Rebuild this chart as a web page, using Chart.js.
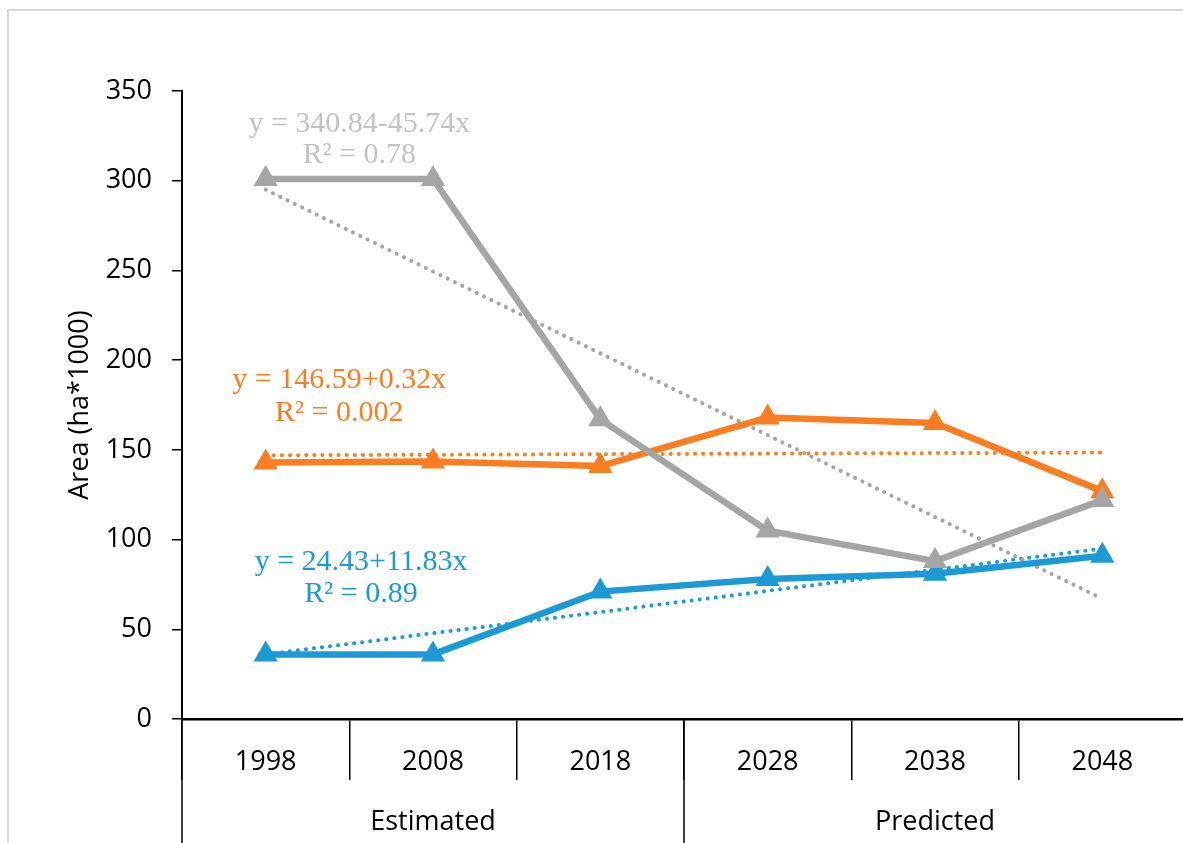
<!DOCTYPE html>
<html>
<head>
<meta charset="utf-8">
<script src="https://cdn.jsdelivr.net/npm/chart.js@4.4.1/dist/chart.umd.min.js"></script>
<style>
  html, body { margin: 0; padding: 0; background: #fff; overflow: hidden; }
  canvas { display: block; }
</style>
</head>
<body>
<canvas id="myChart" width="1200" height="843"></canvas>
<script>
// data
const years = ['1998', '2008', '2018', '2028', '2038', '2048'];
const periods = ['Estimated', 'Estimated', 'Estimated', 'Predicted', 'Predicted', 'Predicted'];
const grayVals = [301, 301, 167, 105, 88, 122];
const orangeVals = [143, 143.5, 141, 168, 165, 127];
const blueVals = [36, 36, 71, 78, 81, 91];
// linear trendlines, only end points
const grayTrend = [295, null, null, null, null, 67];
const orangeTrend = [147, null, null, null, null, 148.5];
const blueTrend = [36, null, null, null, null, 95];
const yTicks = [0, 50, 100, 150, 200, 250, 300, 350];
const grayEq = ['y = 340.84-45.74x', 'R² = 0.78'];
const orangeEq = ['y = 146.59+0.32x', 'R² = 0.002'];
const blueEq = ['y = 24.43+11.83x', 'R² = 0.89'];

const GRAY = '#a5a5a5';
const ORANGE = '#fb7d21';
const BLUE = '#1c9ad6';
const sans = "'Open Sans', 'Liberation Sans', sans-serif";

const lineSet = (label, data, color, order) => ({
  label: label,
  data: data,
  borderColor: color,
  backgroundColor: color,
  borderWidth: 6.5,
  pointStyle: 'triangle',
  pointRadius: 14,
  pointBorderWidth: 0,
  tension: 0,
  order: order
});

const trendSet = (label, data, color, order) => ({
  label: label,
  data: data,
  borderColor: color,
  borderWidth: 4,
  borderDash: [0.1, 8],
  borderCapStyle: 'round',
  pointRadius: 0,
  spanGaps: true,
  tension: 0,
  order: order
});

// frame, group separators, group labels, trendline equations
const extras = {
  id: 'extras',
  beforeDraw(chart) {
    const ctx = chart.ctx;
    ctx.save();
    ctx.fillStyle = '#fff';
    ctx.fillRect(0, 0, chart.width, chart.height);
    ctx.strokeStyle = '#d9d9d9';
    ctx.lineWidth = 2;
    ctx.strokeRect(8, 10, 1400, 1000);
    ctx.restore();
  },
  afterDraw(chart) {
    const ctx = chart.ctx;
    const x = chart.scales.x;
    const y = chart.scales.y;
    const half = (x.getPixelForValue(1) - x.getPixelForValue(0)) / 2;
    ctx.save();
    ctx.strokeStyle = '#000';
    ctx.lineWidth = 1.5;
    let start = 0;
    for (let i = 0; i <= periods.length; i++) {
      if (i === periods.length || periods[i] !== periods[start]) {
        // label of finished group
        const cx = (x.getPixelForValue(start) + x.getPixelForValue(i - 1)) / 2;
        ctx.fillStyle = '#000';
        ctx.font = '27px ' + sans;
        ctx.textAlign = 'center';
        ctx.textBaseline = 'middle';
        ctx.fillText(periods[start], cx, 822);
        start = i;
      }
      if (i === 0 || i === periods.length || periods[i] !== periods[i - 1]) {
        const bx = x.getPixelForValue(i) - half;
        ctx.beginPath();
        ctx.moveTo(bx, chart.chartArea.bottom);
        ctx.lineTo(bx, chart.height);
        ctx.stroke();
      }
    }
    const eqs = [
      { text: grayEq, color: '#c3c3c3', at: [0.56, 327, 310] },
      { text: orangeEq, color: ORANGE, at: [0.44, 184.5, 166] },
      { text: blueEq, color: BLUE, at: [0.57, 83, 65] }
    ];
    ctx.font = "30px 'Liberation Serif', 'DejaVu Serif', serif";
    ctx.textAlign = 'center';
    ctx.textBaseline = 'alphabetic';
    eqs.forEach(e => {
      ctx.fillStyle = e.color;
      const px = x.getPixelForValue(e.at[0]);
      ctx.fillText(e.text[0], px, y.getPixelForValue(e.at[1]));
      ctx.fillText(e.text[1], px, y.getPixelForValue(e.at[2]));
    });
    ctx.restore();
  }
};

new Chart(document.getElementById('myChart'), {
  type: 'line',
  data: {
    labels: years,
    datasets: [
      lineSet('Gray', grayVals, GRAY, 1),
      lineSet('Orange', orangeVals, ORANGE, 2),
      lineSet('Blue', blueVals, BLUE, 3),
      trendSet('Gray trend', grayTrend, GRAY, 4),
      trendSet('Orange trend', orangeTrend, ORANGE, 5),
      trendSet('Blue trend', blueTrend, BLUE, 6)
    ]
  },
  options: {
    responsive: false,
    animation: false,
    devicePixelRatio: 1,
    layout: { padding: { top: 91, right: 12, left: 0, bottom: 0 } },
    plugins: {
      legend: { display: false },
      tooltip: { enabled: false }
    },
    scales: {
      x: {
        offset: true,
        afterFit: s => { s.height = 124; },
        grid: {
          offset: true,
          drawOnChartArea: false,
          drawTicks: true,
          tickLength: 61,
          color: '#000',
          lineWidth: 1.5
        },
        border: { display: true, color: '#000', width: 2.5 },
        ticks: {
          color: '#000',
          font: { family: sans, size: 27 },
          padding: -34,
          maxRotation: 0,
          autoSkip: false
        }
      },
      y: {
        min: 0,
        max: 350,
        afterFit: s => { s.width = 182; },
        afterBuildTicks: s => { s.ticks = yTicks.map(v => ({ value: v })); },
        grid: {
          drawOnChartArea: false,
          drawTicks: true,
          tickLength: 10,
          color: '#000',
          lineWidth: 1.5
        },
        border: { display: true, color: '#000', width: 2 },
        ticks: {
          color: '#000',
          font: { family: sans, size: 27 },
          padding: 20
        },
        title: {
          display: true,
          text: 'Area (ha*1000)',
          color: '#000',
          font: { family: sans, size: 27 },
          padding: { top: 64, bottom: 0 }
        }
      }
    }
  },
  plugins: [extras]
});
</script>
</body>
</html>
